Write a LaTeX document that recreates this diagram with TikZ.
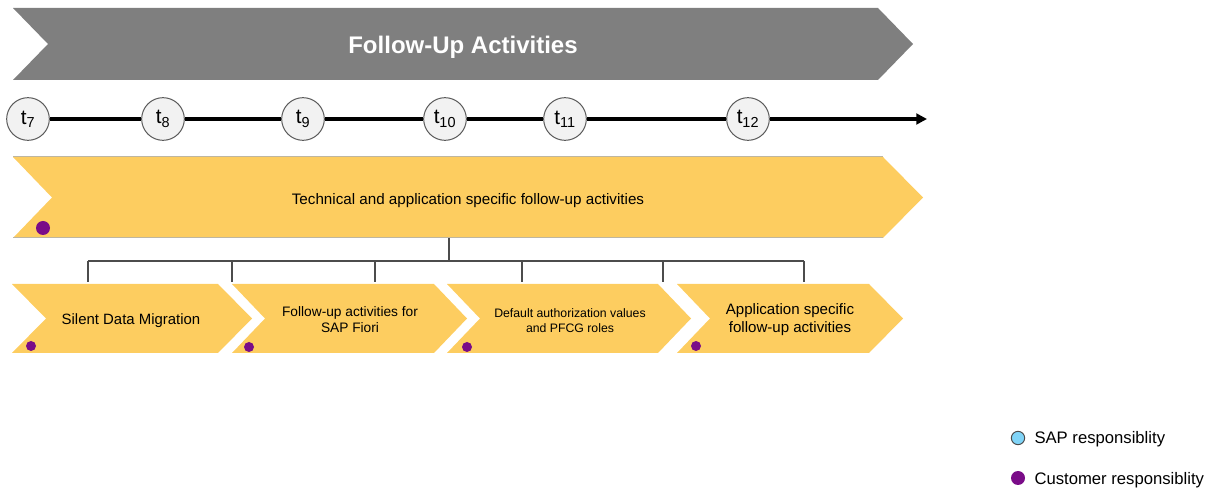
\documentclass[tikz,border=0pt]{standalone}
\usepackage{fontspec}
\setmainfont{Liberation Sans}
\usetikzlibrary{arrows.meta}

\definecolor{bannergray}{RGB}{127,127,127}
\definecolor{chevyellow}{RGB}{253,205,96}
\definecolor{chevedge}{RGB}{190,182,160}
\definecolor{custpurple}{RGB}{122,12,136}
\definecolor{sapblue}{RGB}{128,212,247}
\definecolor{bubblefill}{RGB}{242,242,242}

\tikzset{every picture/.style={line width=0.75pt}}
\tikzset{
  timebubble/.style={circle, draw=black!65, fill=bubblefill, minimum size=32pt, inner sep=0pt, font=\fontsize{15.5}{15}\selectfont},
  chev/.style={fill=chevyellow},
  owner/.style={circle, fill=custpurple, inner sep=0pt, minimum size=7.5pt},
  branch/.style={draw=black!70, line width=1pt},
  legtext/.style={anchor=west, inner sep=0.75pt, font=\fontsize{12.5}{14}\selectfont},
}

\begin{document}
\begin{tikzpicture}[x=0.75pt,y=0.75pt,yscale=-1,xscale=1]
\path (0,0) rectangle (1211,491); %set diagram size 1211 x 491

%Shape: Banner
\fill [bannergray] (13,8) -- (878,8) -- (913,44) -- (878,80) -- (13,80) -- (48,44) -- cycle ;
% Text Node
\node (title) [text=white, font=\fontsize{18}{20}\selectfont\bfseries] at (463,47.5) {Follow-Up Activities};

%Timeline
\node (t7) [timebubble] at (28,119) {t\textsubscript{7}};
\node (t8) [timebubble] at (163,119) {t\textsubscript{8}};
\node (t9) [timebubble] at (303,119) {t\textsubscript{9}};
\node (t10) [timebubble] at (445,119) {t\textsubscript{10}};
\node (t11) [timebubble] at (565,119) {t\textsubscript{11}};
\node (t12) [timebubble] at (748,119) {t\textsubscript{12}};
\coordinate (tend) at (927,119);
\draw [line width=2.5pt] (t7) -- (t8) (t8) -- (t9) (t9) -- (t10) (t10) -- (t11) (t11) -- (t12);
\draw [line width=2.5pt, -{Triangle[length=8pt,width=8pt]}] (t12) -- (tend);

%Shape: Big chevron
\fill [chev] (13,157) -- (883,157) -- (923,197.5) -- (883,238) -- (13,238) -- (52,197.5) -- cycle ;
\draw [chevedge, line width=0.75pt] (13,157) -- (883,157) (13,238) -- (883,238);
\node (tech) [inner sep=0.75pt, font=\fontsize{11.4}{13}\selectfont] at (468,201) {Technical and application specific follow-up activities};
\node (techown) [owner, minimum size=10.5pt] at (43,228) {};

%Shape: Small chevrons
\fill [chev] (12,284) -- (218,284) -- (252,318.5) -- (218,353) -- (12,353) -- (46,318.5) -- cycle ;
\fill [chev] (232,284) -- (434,284) -- (467,318.5) -- (434,353) -- (232,353) -- (265,318.5) -- cycle ;
\fill [chev] (447,284) -- (658,284) -- (691,318.5) -- (658,353) -- (447,353) -- (480,318.5) -- cycle ;
\fill [chev] (677,284) -- (869,284) -- (903,318.5) -- (869,353) -- (677,353) -- (710,318.5) -- cycle ;

% Text Node
\node (mig) [inner sep=0.75pt, font=\fontsize{11.2}{13}\selectfont] at (131,321) {Silent Data Migration};
\node (fiori) [inner sep=0.75pt, align=center, font=\fontsize{10.3}{12.5}\selectfont] at (350,319.5) {Follow-up activities for\\SAP Fiori};
\node (auth) [inner sep=0.75pt, align=center, font=\fontsize{9.2}{11.5}\selectfont] at (570,320.5) {Default authorization values\\and PFCG roles};
\node (appl) [inner sep=0.75pt, align=center, font=\fontsize{11.3}{13}\selectfont] at (790,319.5) {Application specific\\follow-up activities};

\node (migown) [owner] at (31,346) {};
\node (fioriown) [owner] at (249,347) {};
\node (authown) [owner] at (467,347) {};
\node (applown) [owner] at (696,346) {};

%Branch lines
\coordinate (trunk) at (449,238);
\coordinate (hub) at (449,261);
\draw [branch] (trunk) -- (hub);
\coordinate (bleft) at (88,261);
\coordinate (bright) at (804,261);
\draw [branch] (bleft) -- (bright);
\foreach \bx [count=\bi] in {88,232,375,522,663,804}{
  \coordinate (drop\bi) at (\bx,261);
  \coordinate (foot\bi) at (\bx,282);
  \draw [branch] (drop\bi) -- (foot\bi);
}

%Legend
\node (sapdot) [circle, draw=black!70, fill=sapblue, inner sep=0pt, minimum size=10pt] at (1018,438) {};
\node (saptxt) [legtext] at (1033,439.5) {SAP responsiblity};
\node (custdot) [owner, minimum size=10.5pt] at (1018,478) {};
\node (custtxt) [legtext] at (1033,480.5) {Customer responsiblity};

\end{tikzpicture}
\end{document}
